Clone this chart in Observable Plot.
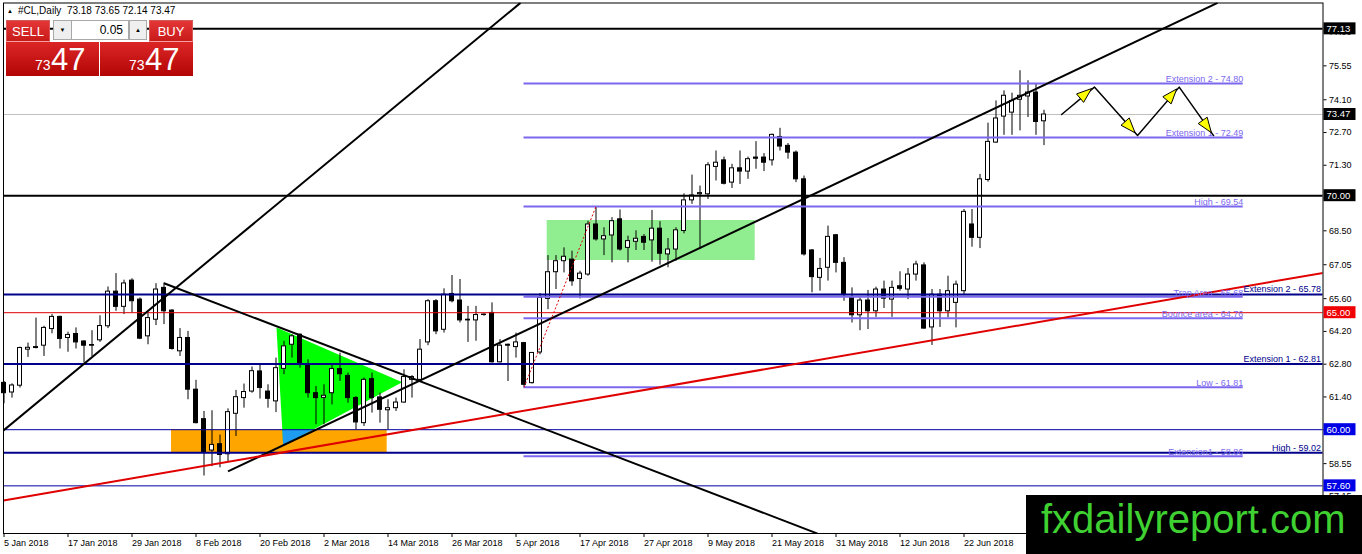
<!DOCTYPE html>
<html>
<head>
<meta charset="utf-8">
<script src="https://cdn.jsdelivr.net/npm/d3@7"></script>
<script src="https://cdn.jsdelivr.net/npm/@observablehq/plot@0.6"></script>
<style>
  body { margin: 0; background: #fff; }
  #wrap { position: relative; width: 1362px; height: 554px; overflow: hidden; font-family: "Liberation Sans", Arial, sans-serif; }
  #chart svg { display: block; }
  .abs { position: absolute; white-space: pre; }
  #info { left: 18px; top: 5px; font-size: 10px; line-height: 12px; color: #000; }
  #info-mark { left: 7px; top: 7px; font-size: 6px; line-height: 8px; color: #000; }
  .tab { top: 20px; width: 44px; height: 22px; line-height: 22px; color: #fff; font-size: 13px; text-align: center;
         background: linear-gradient(#e43636, #c91a1a); box-sizing: border-box; border: 1px solid #d45a5a; border-bottom: 1px solid #f4a0a0; }
  .quote { top: 42px; width: 93px; height: 34px; background: linear-gradient(#dc2626, #b30505); }
  .small { font-size: 14px; line-height: 14px; color: #fff; }
  .big { font-size: 31px; line-height: 31px; color: #fff; }
  .spin { top: 20px; height: 20px; box-sizing: border-box; border: 1px solid #a8a8a8; background: #efefef;
          font-size: 6px; line-height: 18px; text-align: center; color: #000; }
  #lot { left: 71px; width: 58px; background: #fff; font-size: 12px; text-align: right; padding-right: 5px; }
  #brand { left: 1026px; top: 495px; width: 336px; height: 59px; background: #000; }
  #brand span { position: absolute; left: 15px; top: 4px; font-size: 40px; line-height: 40px; color: #3fd132; }
</style>
</head>
<body>
<div id="wrap">
  <div id="chart"></div>
  <div class="abs" id="info-mark">▲</div>
  <div class="abs" id="info"></div>
  <div class="abs tab" style="left:6px">SELL</div>
  <div class="abs tab" style="left:149px">BUY</div>
  <div class="abs quote" style="left:6px"></div>
  <div class="abs quote" style="left:100px"></div>
  <div class="abs small" id="sell-small" style="left:35px; top:58px"></div>
  <div class="abs big" id="sell-big" style="left:51px; top:44px"></div>
  <div class="abs small" id="buy-small" style="left:129px; top:58px"></div>
  <div class="abs big" id="buy-big" style="left:145px; top:44px"></div>
  <div class="abs spin" style="left:53px; width:19px">▼</div>
  <div class="abs spin" id="lot"></div>
  <div class="abs spin" style="left:129px; width:18px">▲</div>
  <div class="abs" id="brand"><span>fxdailyreport.com</span></div>
</div>
<script>
// daily candles, bar 0 = 5 Jan 2018
const barOpen = [
  62.00, 61.59, 61.88, 63.42, 63.53, 63.59, 64.30, 64.82, 63.92, 64.09,
  63.77, 63.62, 63.82, 64.42, 65.90, 65.25, 66.37, 65.56, 63.99, 64.70,
  66.06, 65.09, 63.35, 63.92, 61.71, 60.45, 59.11, 59.38, 58.95, 60.68,
  61.35, 61.63, 62.49, 61.63, 61.21, 62.60, 63.63, 64.06, 62.78, 61.56,
  61.36, 61.56, 62.59, 62.30, 61.35, 60.28, 62.16, 61.38, 60.83, 60.92,
  61.16, 62.13, 62.13, 63.73, 65.49, 64.27, 65.80, 65.52, 64.70, 64.67,
  64.92, 64.99, 62.88, 63.63, 63.53, 63.70, 61.99, 63.30, 65.59, 66.73,
  67.20, 67.27, 66.44, 66.63, 68.77, 68.13, 68.30, 68.99, 67.77, 68.03,
  68.24, 68.09, 68.59, 67.49, 67.70, 68.49, 69.80, 70.06, 70.06, 71.23,
  71.51, 70.56, 71.17, 71.03, 71.63, 71.63, 71.51, 72.51, 72.13, 71.84,
  70.70, 67.66, 66.49, 66.92, 68.31, 67.13, 65.66, 64.89, 65.52, 65.06,
  65.99, 65.56, 66.13, 65.99, 66.63, 67.02, 64.37, 65.77, 65.06, 65.42,
  65.92, 68.77, 68.20, 70.67, 72.27, 73.38, 73.55, 74.10, 74.24, 74.41,
  73.18
];
const barHigh = [
  62.06, 61.96, 63.53, 63.70, 64.77, 64.42, 64.92, 64.85, 64.17, 64.35,
  63.80, 64.23, 64.87, 66.10, 66.67, 66.39, 66.45, 65.63, 64.99, 66.24,
  66.27, 65.13, 64.32, 64.20, 62.11, 60.78, 60.81, 59.77, 60.89, 61.68,
  61.95, 62.68, 62.78, 61.92, 63.06, 63.78, 64.06, 64.09, 62.99, 61.85,
  61.92, 62.82, 63.27, 62.42, 61.42, 62.21, 62.42, 61.56, 61.28, 61.35,
  62.56, 62.31, 63.85, 65.56, 65.56, 66.02, 66.59, 66.42, 65.27, 65.27,
  64.95, 65.42, 63.85, 63.66, 64.13, 63.73, 63.30, 65.82, 67.44, 67.44,
  67.77, 67.63, 66.77, 68.91, 69.54, 68.63, 69.06, 69.39, 68.27, 68.50,
  68.34, 69.37, 68.89, 68.17, 68.63, 70.08, 70.88, 70.41, 71.41, 71.91,
  71.65, 71.34, 71.91, 71.65, 72.31, 71.80, 72.63, 72.88, 72.23, 71.91,
  70.84, 67.70, 67.32, 68.70, 68.34, 67.35, 66.06, 65.63, 65.95, 66.09,
  66.35, 66.35, 66.75, 66.89, 67.20, 67.13, 65.99, 65.99, 66.56, 66.35,
  69.41, 69.41, 70.91, 73.10, 74.05, 74.48, 74.38, 75.34, 74.91, 74.77,
  73.65
];
const barLow = [
  61.11, 61.35, 61.78, 63.09, 63.45, 63.13, 64.10, 63.45, 63.31, 63.45,
  62.85, 63.13, 63.73, 64.32, 65.06, 64.92, 64.99, 63.85, 63.63, 64.45,
  64.49, 63.40, 63.13, 61.28, 60.25, 58.02, 58.42, 58.37, 58.62, 59.71,
  60.92, 61.56, 61.31, 60.92, 60.73, 62.35, 63.06, 62.63, 61.35, 60.21,
  60.21, 61.06, 62.06, 61.13, 59.99, 60.14, 60.71, 60.28, 59.99, 60.78,
  61.13, 61.35, 62.06, 63.59, 64.06, 64.13, 65.42, 64.56, 63.73, 63.78,
  64.85, 62.85, 62.85, 62.06, 63.06, 61.81, 61.95, 63.20, 65.13, 65.99,
  66.70, 66.13, 65.59, 66.56, 68.06, 67.44, 67.13, 67.63, 67.13, 67.66,
  67.66, 67.16, 67.03, 66.92, 67.20, 68.37, 69.63, 67.70, 69.84, 70.63,
  70.46, 70.31, 70.48, 70.70, 71.13, 71.03, 71.27, 71.91, 71.56, 70.56,
  67.42, 65.85, 65.92, 66.35, 66.70, 65.49, 64.56, 64.23, 64.28, 64.80,
  65.18, 64.80, 65.92, 65.56, 66.35, 64.30, 63.60, 64.37, 64.78, 64.35,
  65.77, 67.80, 67.74, 70.58, 72.24, 72.58, 72.58, 72.77, 73.34, 72.58,
  72.14
];
const barClose = [
  61.56, 61.89, 63.49, 63.50, 63.49, 64.35, 64.82, 63.88, 64.05, 63.73,
  63.59, 63.59, 64.43, 65.90, 65.25, 66.25, 65.49, 63.89, 64.77, 65.99,
  65.06, 63.45, 63.92, 61.71, 60.28, 59.02, 59.35, 58.92, 60.75, 61.39,
  61.61, 62.50, 61.78, 61.32, 62.63, 63.56, 63.99, 62.85, 61.56, 61.35,
  61.45, 62.59, 62.37, 61.35, 60.31, 62.13, 61.35, 60.85, 60.92, 61.16,
  62.25, 62.25, 63.42, 65.49, 64.20, 65.77, 65.49, 64.67, 64.67, 64.90,
  64.90, 62.88, 63.59, 63.59, 63.73, 61.92, 63.28, 65.63, 66.73, 67.20,
  67.39, 66.34, 66.67, 68.77, 68.13, 68.27, 68.91, 67.70, 68.06, 68.16,
  67.99, 68.59, 67.52, 67.70, 68.52, 69.80, 70.01, 70.11, 71.30, 71.41,
  70.51, 71.17, 71.03, 71.56, 71.58, 71.41, 72.60, 72.10, 71.84, 70.70,
  67.49, 66.52, 66.87, 68.24, 67.13, 65.77, 64.89, 65.52, 65.06, 65.99,
  65.60, 66.06, 66.02, 66.63, 67.06, 64.32, 65.77, 65.06, 65.92, 66.20,
  69.31, 68.20, 70.70, 72.30, 73.30, 74.27, 74.05, 74.27, 74.41, 73.15,
  73.47
];

// time axis
const xTickBars = [0, 8, 16, 24, 32, 40, 48, 56, 64, 72, 80, 88, 96, 104, 112, 120];
const xTickLabels = ["5 Jan 2018", "17 Jan 2018", "29 Jan 2018", "8 Feb 2018", "20 Feb 2018", "2 Mar 2018",
  "14 Mar 2018", "26 Mar 2018", "5 Apr 2018", "17 Apr 2018", "27 Apr 2018", "9 May 2018", "21 May 2018",
  "31 May 2018", "12 Jun 2018", "22 Jun 2018"];
const xRange = [-0.0625, 164.875];

// price axis
const yTicks = [77.00, 75.55, 74.10, 72.70, 71.30, 69.90, 68.50, 67.05, 65.60, 64.20, 62.80, 61.40, 60.00, 58.55, 57.15, 55.75];
const yRange = [55.564, 78.235];

// horizontal levels
const bidPrice = 73.47;
const blackLevels = [77.13, 70.00];
const redLevels = [65.00];
const navyLevels = [65.78, 62.81, 59.02];
const navyLabels = ["Extension 2 - 65.78", "Extension 1 - 62.81", "High - 59.02"];
const thinLevels = [60.00, 57.60];
const tagValues = [77.13, 73.47, 70.00, 65.00, 60.00, 57.60];

// fibo expansion object
const fiboStart = 65;
const fiboEnd = 154.9;
const fiboValues = [74.80, 72.49, 69.54, 65.68, 64.76, 61.81, 58.86];
const fiboLabels = ["Extension 2 - 74.80", "Extension 1 - 72.49", "High - 69.54", "Trap Area - 65.68",
  "Bounce area - 64.76", "Low - 61.81", "Extension1 - 58.86"];
const fiboDashBars = [65, 74];
const fiboDashPrices = [61.81, 69.54];

// trend lines: [bar, price] start and end
const trendStart = [[-0.06, 59.97], [20, 66.26], [28, 58.22]];
const trendEnd = [[64.56, 78.24], [101.7, 55.56], [151.7, 78.24]];
const redTrendStart = [-0.06, 56.97];
const redTrendEnd = [164.88, 66.70];

// drawn shapes
const greenBoxBars = [67.9, 93.9];
const greenBoxPrices = [67.23, 68.94];
const orangeBoxBars = [20.94, 47.9];
const orangeBoxPrices = [59.02, 60.00];
const triBars = [34.06, 34.9, 49.78];
const triPrices = [64.37, 59.32, 62.03];

// projected zigzag
const arrowBars = [132.2, 136.3, 141.7, 146.9, 151.2];
const arrowPrices = [73.47, 74.64, 72.57, 74.64, 72.57];

const lotSize = "0.05";

const bars = barOpen.map((o, i) => ({i: i, open: o, high: barHigh[i], low: barLow[i], close: barClose[i]}));
const triangle = triBars.map((b, k) => ({x: b, y: triPrices[k]}));
const zigzag = arrowBars.map((b, k) => ({x: b, y: arrowPrices[k]}));
const trends = trendStart.map((s, k) => ({x1: s[0], y1: s[1], x2: trendEnd[k][0], y2: trendEnd[k][1]}));

// part of the triangle lying inside the orange box (drawn blue)
function clipBelow(poly, yMax) {
  let out = [];
  for (let k = 0; k < poly.length; k++) {
    let a = poly[k], b = poly[(k + 1) % poly.length];
    let ina = a.y <= yMax, inb = b.y <= yMax;
    if (ina) out.push(a);
    if (ina !== inb) {
      let t = (yMax - a.y) / (b.y - a.y);
      out.push({x: a.x + t * (b.x - a.x), y: yMax});
    }
  }
  return out;
}
const overlap = clipBelow(triangle, orangeBoxPrices[1]);

function tagColor(v) {
  if (v === bidPrice || blackLevels.includes(v)) return "#000000";
  if (redLevels.includes(v)) return "#f00000";
  return "#0000e6";
}

// price tags on the right axis
function priceTags(index, scales, values, dimensions) {
  const g = d3.create("svg:g").attr("text-anchor", "start");
  const x0 = dimensions.width - dimensions.marginRight + 1;
  for (const v of tagValues) {
    const yy = scales.y(v);
    g.append("rect").attr("x", x0).attr("y", yy - 6).attr("width", 32).attr("height", 12).attr("fill", tagColor(v));
    g.append("text").attr("x", x0 + 3).attr("y", yy).attr("dy", "0.35em").attr("text-anchor", "start")
      .attr("fill", "white").attr("font-size", 9.5).text(v.toFixed(2));
  }
  return g.node();
}

// yellow heads on the zigzag
function arrowHeads(index, scales) {
  const g = d3.create("svg:g");
  for (let k = 0; k < zigzag.length - 1; k++) {
    const x0 = scales.x(zigzag[k].x), y0 = scales.y(zigzag[k].y);
    const x1 = scales.x(zigzag[k + 1].x), y1 = scales.y(zigzag[k + 1].y);
    const len = Math.hypot(x1 - x0, y1 - y0);
    const ux = (x1 - x0) / len, uy = (y1 - y0) / len;
    const tx = x1 - ux * 3, ty = y1 - uy * 3;
    const bx = tx - ux * 15, by = ty - uy * 15;
    const pts = [[tx, ty], [bx - uy * 5.5, by + ux * 5.5], [bx + uy * 5.5, by - ux * 5.5]];
    g.append("path").attr("d", "M" + pts.join("L") + "Z")
      .attr("fill", "#ffff00").attr("stroke", "#000").attr("stroke-width", 1);
  }
  return g.node();
}

const plot = Plot.plot({
  width: 1362,
  height: 554,
  marginLeft: 3,
  marginRight: 39.5,
  marginTop: 2.5,
  marginBottom: 21,
  style: {fontFamily: "'Liberation Sans', Arial, sans-serif", fontSize: "9px", background: "white", color: "black"},
  x: {domain: xRange},
  y: {domain: yRange},
  marks: [
    Plot.rect([0], {x1: greenBoxBars[0], x2: greenBoxBars[1], y1: greenBoxPrices[0], y2: greenBoxPrices[1], fill: "#90ee90"}),
    Plot.rect([0], {x1: orangeBoxBars[0], x2: orangeBoxBars[1], y1: orangeBoxPrices[0], y2: orangeBoxPrices[1], fill: "#ffa500"}),
    Plot.line(triangle, {x: "x", y: "y", fill: "#00ff00", stroke: "none"}),
    Plot.line(overlap, {x: "x", y: "y", fill: "#1e9cf0", stroke: "none"}),
    Plot.ruleY([bidPrice], {stroke: "#c0c0c0", strokeWidth: 1}),

    // candles
    Plot.ruleX(bars, {x: "i", y1: "low", y2: "high", stroke: "black", strokeWidth: 1}),
    Plot.rect(bars, {
      x1: d => d.i - 0.25, x2: d => d.i + 0.25, y1: "open", y2: "close",
      fill: d => d.close >= d.open ? "white" : "black", stroke: "black", strokeWidth: 1
    }),

    Plot.ruleY(fiboValues, {y: d => d, x1: fiboStart, x2: fiboEnd, stroke: "#7b68ee", strokeWidth: 2}),
    Plot.ruleY(blackLevels, {stroke: "black", strokeWidth: 2}),
    Plot.ruleY(navyLevels, {stroke: "#00008b", strokeWidth: 2}),
    Plot.ruleY(thinLevels, {stroke: "#0000a0", strokeWidth: 1}),
    Plot.ruleY(redLevels, {stroke: "#e00000", strokeWidth: 1}),

    Plot.link(trends, {x1: "x1", y1: "y1", x2: "x2", y2: "y2", stroke: "black", strokeWidth: 2, clip: true}),
    Plot.link([0], {x1: redTrendStart[0], y1: redTrendStart[1], x2: redTrendEnd[0], y2: redTrendEnd[1],
      stroke: "#e00000", strokeWidth: 2, clip: true}),
    Plot.link([0], {x1: fiboDashBars[0], y1: fiboDashPrices[0], x2: fiboDashBars[1], y2: fiboDashPrices[1],
      stroke: "#e00000", strokeWidth: 1, strokeDasharray: "2,2"}),

    Plot.text(fiboValues, {x: fiboEnd, y: d => d, text: (d, k) => fiboLabels[k], textAnchor: "end",
      lineAnchor: "bottom", dy: -1, fill: "#7b68ee"}),
    Plot.text(navyLevels, {y: d => d, text: (d, k) => navyLabels[k], frameAnchor: "right", textAnchor: "end",
      lineAnchor: "bottom", dx: -2, dy: -2, fill: "#00008b"}),

    Plot.line(zigzag, {x: "x", y: "y", stroke: "black", strokeWidth: 1.5}),
    arrowHeads,

    Plot.axisX({ticks: xTickBars, tickFormat: d => xTickLabels[xTickBars.indexOf(d)], textAnchor: "start",
      tickSize: 4, tickPadding: 2, label: null}),
    Plot.axisY({anchor: "right", ticks: yTicks, tickFormat: d => d.toFixed(2), tickSize: 3, tickPadding: 3, label: null}),
    Plot.frame({stroke: "black"}),
    priceTags
  ]
});

document.querySelector("#chart").append(plot);

// header and one-click panel
const last = barOpen.length - 1;
document.getElementById("info").textContent = "#CL,Daily  " +
  [barOpen[last], barHigh[last], barLow[last], barClose[last]].map(v => v.toFixed(2)).join(" ");
const bidText = bidPrice.toFixed(2).split(".");
document.getElementById("sell-small").textContent = bidText[0];
document.getElementById("sell-big").textContent = bidText[1];
document.getElementById("buy-small").textContent = bidText[0];
document.getElementById("buy-big").textContent = bidText[1];
document.getElementById("lot").textContent = lotSize;
</script>
</body>
</html>
